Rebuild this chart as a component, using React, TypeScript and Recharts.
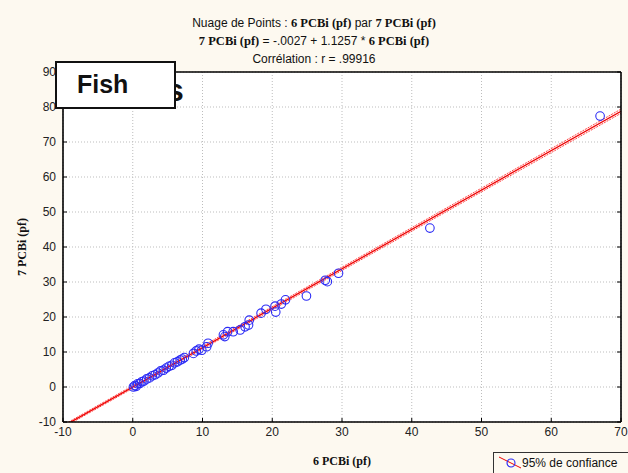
import React from 'react';
import { ScatterChart, Scatter, XAxis, YAxis, CartesianGrid, ReferenceLine } from 'recharts';

const pcb6 = [0.1, 0.3, 0.5, 0.7, 1.0, 1.3, 1.6, 2.0, 2.4, 2.8, 3.2, 3.6, 4.0, 4.4, 4.8, 5.2, 5.6, 6.0, 6.4, 6.8, 7.1, 7.4, 8.7, 9.1, 9.5, 9.9, 10.6, 10.8, 13.0, 13.2, 13.6, 14.4, 15.4, 16.1, 16.6, 16.7, 18.4, 19.1, 20.4, 20.5, 21.3, 21.9, 24.9, 27.6, 27.9, 29.5, 42.6, 67.0];
const pcb7 = [0.0, 0.4, 0.2, 0.9, 1.0, 1.5, 1.7, 2.3, 2.6, 3.2, 3.5, 4.0, 4.6, 4.8, 5.4, 5.9, 6.2, 6.9, 7.2, 7.7, 8.0, 8.4, 9.6, 10.3, 10.8, 10.5, 11.5, 12.5, 14.9, 14.4, 15.8, 15.8, 16.3, 17.2, 17.7, 19.1, 21.1, 22.2, 23.1, 21.4, 23.7, 24.9, 26.0, 30.5, 30.1, 32.5, 45.4, 77.4];

const xTicks = [-10, 0, 10, 20, 30, 40, 50, 60, 70];
const yTicks = [-10, 0, 10, 20, 30, 40, 50, 60, 70, 80, 90];

const intercept = -0.0027;
const slope = 1.1257;
const lineEnds = [-10, 70];
const bandHalfWidth = [0.35, 0.6];

const points = pcb6.map((x, i) => ({ x, y: pcb7[i] }));
const fit = (x: number) => intercept + slope * x;

const sans = '"Liberation Sans", Arial, sans-serif';
const serif = '"Liberation Serif", "Times New Roman", serif';

const Circle = (props: any) => (
  <circle cx={props.cx} cy={props.cy} r={4.3} fill="none" stroke="#2b2bf5" strokeWidth={1.1} />
);

const EmptyTick = () => <g />;

export default function App() {
  const tickStyle = { fontSize: 12, fontFamily: sans, fill: '#222' };
  const axisLine = { stroke: '#000', strokeWidth: 1.6 };
  return (
    <div style={{ position: 'absolute', left: 0, top: 0, width: 628, height: 473, background: '#FDF9F0', overflow: 'hidden' }}>
      <ScatterChart width={628} height={473} margin={{ top: 71, right: 6, bottom: 50, left: 62 }}>
        <CartesianGrid xAxisId="b" yAxisId="l" stroke="#bdbdbd" strokeDasharray="1 2" fill="#ffffff" />
        <XAxis xAxisId="b" type="number" dataKey="x" domain={[-10, 70]} ticks={xTicks} height={1}
          tickSize={-4} tickMargin={9} tick={tickStyle} axisLine={axisLine} tickLine={{ stroke: '#000' }} allowDataOverflow />
        <XAxis xAxisId="t" orientation="top" type="number" domain={[-10, 70]} ticks={xTicks} height={1}
          tickSize={-4} tick={EmptyTick} axisLine={axisLine} tickLine={{ stroke: '#000' }} allowDataOverflow />
        <YAxis yAxisId="l" type="number" dataKey="y" domain={[-10, 90]} ticks={yTicks} width={1}
          tickSize={-4} tickMargin={11} tick={tickStyle} axisLine={axisLine} tickLine={{ stroke: '#000' }} allowDataOverflow />
        <YAxis yAxisId="r" orientation="right" type="number" domain={[-10, 90]} ticks={yTicks} width={1}
          tickSize={-4} tick={EmptyTick} axisLine={axisLine} tickLine={{ stroke: '#000' }} allowDataOverflow />
        <ReferenceLine xAxisId="b" yAxisId="l" ifOverflow="hidden"
          segment={[{ x: lineEnds[0], y: fit(lineEnds[0]) + bandHalfWidth[0] }, { x: lineEnds[1], y: fit(lineEnds[1]) + bandHalfWidth[1] }]}
          stroke="#ff3030" strokeWidth={0.9} strokeDasharray="2 1" />
        <ReferenceLine xAxisId="b" yAxisId="l" ifOverflow="hidden"
          segment={[{ x: lineEnds[0], y: fit(lineEnds[0]) - bandHalfWidth[0] }, { x: lineEnds[1], y: fit(lineEnds[1]) - bandHalfWidth[1] }]}
          stroke="#ff3030" strokeWidth={0.9} strokeDasharray="2 1" />
        <ReferenceLine xAxisId="b" yAxisId="l" ifOverflow="hidden"
          segment={[{ x: lineEnds[0], y: fit(lineEnds[0]) }, { x: lineEnds[1], y: fit(lineEnds[1]) }]}
          stroke="#ee0000" strokeWidth={1.3} />
        <Scatter xAxisId="b" yAxisId="l" data={points} shape={Circle} isAnimationActive={false} />
      </ScatterChart>

      <div style={{ position: 'absolute', left: 0, width: 628, top: 14, textAlign: 'center', fontFamily: sans, fontSize: 12, color: '#111', lineHeight: '18px' }}>
        <div>Nuage de Points : <b style={{ fontFamily: serif, fontSize: 12.5 }}>6 PCBi (pf)</b> par <b style={{ fontFamily: serif, fontSize: 12.5 }}>7 PCBi (pf)</b></div>
        <div><b style={{ fontFamily: serif, fontSize: 12.5 }}>7 PCBi (pf)</b> = -.0027 + 1.1257 * <b style={{ fontFamily: serif, fontSize: 12.5 }}>6 PCBi (pf)</b></div>
        <div>Corrélation : r = .99916</div>
      </div>

      <div style={{ position: 'absolute', left: 0, top: 454, width: 684, textAlign: 'center', fontFamily: serif, fontWeight: 'bold', fontSize: 12, color: '#111' }}>6 PCBi (pf)</div>
      <div style={{ position: 'absolute', left: 22, top: 247, width: 0, height: 0 }}>
        <div style={{ position: 'absolute', transform: 'translate(-50%, -50%) rotate(-90deg)', whiteSpace: 'nowrap', fontFamily: serif, fontWeight: 'bold', fontSize: 12, color: '#111' }}>7 PCBi (pf)</div>
      </div>

      <div style={{ position: 'absolute', left: 166, top: 72, fontFamily: sans, fontWeight: 'bold', fontSize: 32, color: '#111', whiteSpace: 'nowrap' }}>s</div>
      <div style={{ position: 'absolute', left: 55, top: 61, width: 117, height: 44, background: '#fff', border: '2px solid #111' }}>
        <div style={{ position: 'absolute', left: 20, top: 7, fontFamily: sans, fontWeight: 'bold', fontSize: 25, color: '#111' }}>Fish</div>
      </div>

      <div style={{ position: 'absolute', left: 493, top: 452, width: 140, height: 24, border: '1px solid #333', background: '#FDF9F0' }}>
        <svg width={30} height={22} style={{ position: 'absolute', left: 0, top: 0 }}>
          <line x1={5} y1={4} x2={27} y2={15} stroke="#ee0000" strokeWidth={1} />
          <circle cx={17} cy={10} r={4} fill="none" stroke="#2b2bf5" strokeWidth={1.1} />
        </svg>
        <div style={{ position: 'absolute', left: 28, top: 3, fontFamily: sans, fontSize: 12, color: '#111', whiteSpace: 'nowrap' }}>95% de confiance</div>
      </div>
    </div>
  );
}
